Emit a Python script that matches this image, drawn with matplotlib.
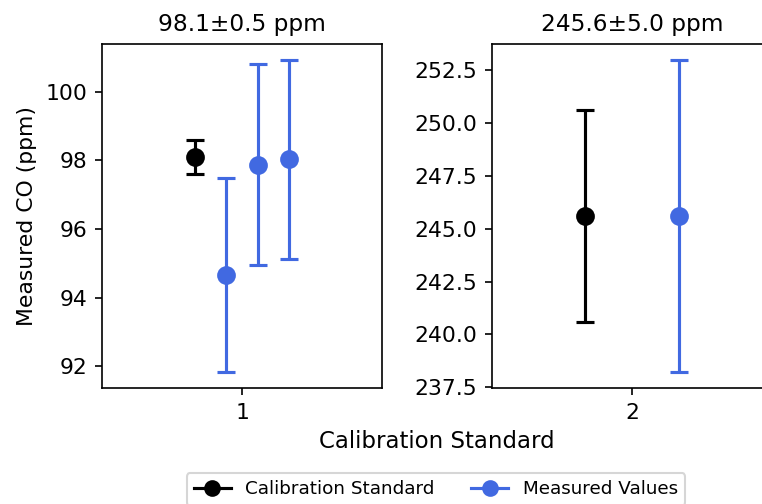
import matplotlib
matplotlib.use("Agg")
import matplotlib.pyplot as plt
from matplotlib.lines import Line2D

# ---- data ----
std_positions = [1, 2]
std_offset = -1 / 6
std_values = [98.1, 245.6]
std_errors = [0.5, 5.0]
titles = ["98.1\u00b10.5 ppm", "245.6\u00b15.0 ppm"]

# measured values per standard: (x offset, value, error)
meas_offsets = [[-1 / 18, 1 / 18, 1 / 6], [1 / 6]]
meas_values = [[94.65, 97.87, 98.03], [245.6]]
meas_errors = [[2.83, 2.93, 2.91], [7.4]]

BLUE = "#4169E1"

plt.rcParams.update({"font.family": "DejaVu Sans", "font.size": 10.5})

W, H = 762, 504
fig = plt.figure(figsize=(W / 150, H / 150), dpi=150)

ax_lefts = [102, 492]
axes = []
for i, pos in enumerate(std_positions):
    ax = fig.add_axes([ax_lefts[i] / W, (H - 388) / H, 280 / W, 344 / H])
    axes.append(ax)
    ax.errorbar(pos + std_offset, std_values[i], yerr=std_errors[i],
                fmt="o", color="black", markersize=8, capsize=4.5,
                elinewidth=1.5, capthick=1.5)
    xs = [pos + o for o in meas_offsets[i]]
    ax.errorbar(xs, meas_values[i], yerr=meas_errors[i],
                fmt="o", color=BLUE, markersize=8, capsize=4.5,
                elinewidth=1.5, capthick=1.5)
    ax.set_xlim(pos - 0.5, pos + 0.5)
    ax.set_xticks([pos])
    ax.set_title(titles[i], fontsize=11.2, pad=6)

axes[0].set_ylabel("Measured CO (ppm)")
fig.text(437 / W, 1 - 441 / H, "Calibration Standard", ha="center", va="center",
         fontsize=11)

handles = [
    Line2D([], [], color="black", marker="o", markersize=7, linewidth=1.5),
    Line2D([], [], color=BLUE, marker="o", markersize=7, linewidth=1.5),
]
fig.legend(handles, ["Calibration Standard", "Measured Values"],
           loc="upper center", bbox_to_anchor=(436 / W, 1 - 473 / H),
           borderaxespad=0, ncol=2, fontsize=8.8, frameon=True,
           columnspacing=2.0)

fig.savefig("out.png", dpi=150, facecolor="white")
